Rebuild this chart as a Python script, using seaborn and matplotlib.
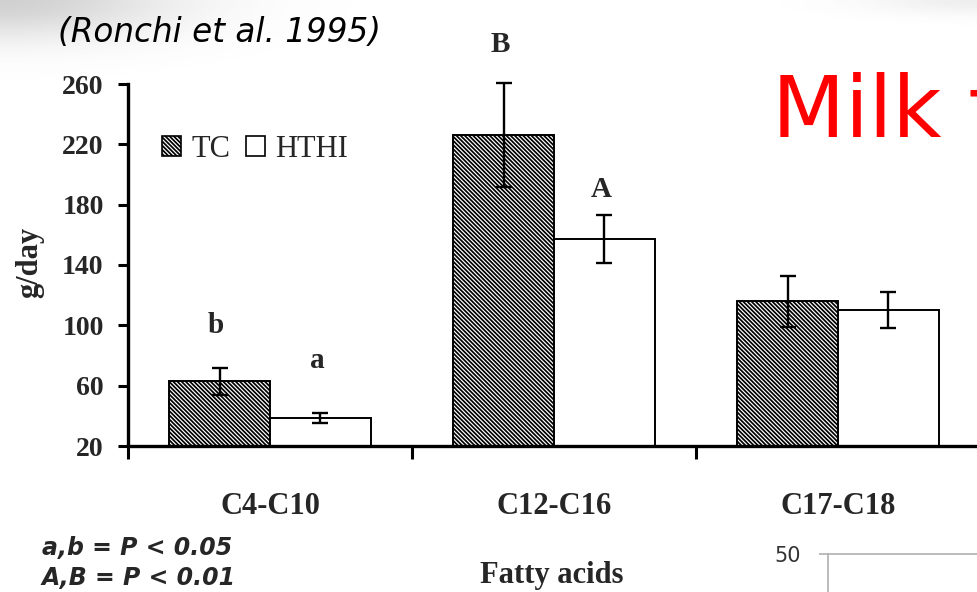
import numpy as np
import pandas as pd
import matplotlib
matplotlib.use("Agg")
import matplotlib.pyplot as plt
from matplotlib.patches import Patch
import seaborn as sns

# Milk fatty acid yield by chain length, two treatments
acids = ["C4-C10", "C12-C16", "C17-C18"]
groups = ["TC", "HTHI"]
tc_mean = [63, 226, 116]
hthi_mean = [38.5, 157, 110]
tc_se = [9, 34.5, 17]
hthi_se = [3.5, 16, 12]
tc_letters = ["b", "B", ""]
hthi_letters = ["a", "A", ""]
y_ticks = [20, 60, 100, 140, 180, 220, 260]
side_ticks = [50]

df = pd.DataFrame({
    "acid": acids * 2,
    "group": [groups[0]] * len(acids) + [groups[1]] * len(acids),
    "value": tc_mean + hthi_mean,
})

sns.set_style("ticks")
plt.rcParams["font.family"] = ["Liberation Serif", "DejaVu Serif"]
plt.rcParams["hatch.linewidth"] = 1.25
plt.rcParams["hatch.color"] = "black"

W, H = 977, 592
fig = plt.figure(figsize=(W / 100, H / 100), dpi=100)
fig.patch.set_facecolor("white")

# soft shadow in the top corners of the slide
bg = fig.add_axes([0, 0, 1, 1], zorder=-10)
bg.axis("off")
yy, xx = np.mgrid[0:H, 0:W]
shade = 0.28 * np.exp(-(xx / 170.0) ** 2 - (yy / 38.0) ** 2)
shade += 0.10 * np.exp(-((W - xx) / 110.0) ** 2 - (yy / 14.0) ** 2)
rgba = np.zeros((H, W, 4))
rgba[..., :3] = 0.35
rgba[..., 3] = np.clip(shade, 0, 1)
bg.imshow(rgba, extent=(0, W, H, 0), aspect="auto", interpolation="bilinear")
bg.set_xlim(0, W)
bg.set_ylim(H, 0)

ax = fig.add_axes([128 / W, 1 - 446 / H, 852 / W, 362 / H])
hatch = "\\" * 8

sns.barplot(data=df, x="acid", y="value", hue="group", hue_order=groups,
            palette={"TC": "white", "HTHI": "white"}, saturation=1,
            width=0.71, gap=0, errorbar=None, edgecolor="black",
            linewidth=1.4, legend=False, ax=ax)

for bar in ax.containers[0]:
    bar.set_hatch(hatch)

letter_y = {"b": 95, "a": 71.5, "B": 281, "A": 185}
for cont, means, ses, letters in zip(list(ax.containers[:2]), [tc_mean, hthi_mean],
                                     [tc_se, hthi_se], [tc_letters, hthi_letters]):
    xs = [b.get_x() + b.get_width() / 2 for b in cont]
    eb = ax.errorbar(xs, means, yerr=ses, fmt="none", ecolor="black",
                     elinewidth=1.7, capsize=5.5, capthick=1.7, zorder=5)
    for art in eb.lines[1] + eb.lines[2]:
        art.set_clip_on(False)
    for x, lab in zip(xs, letters):
        if lab:
            ax.text(x - 0.012, letter_y[lab], lab, ha="center", va="baseline",
                    fontsize=21, fontweight="bold", clip_on=False)

ax.set_xlim(-0.5, 2.5)
ax.set_ylim(20, 260)
ax.set_yticks(y_ticks)
ax.set_xticks(range(len(acids)))
ax.set_xticklabels(acids, fontsize=22, fontweight="bold")
ax.set_xticks([i - 0.5 for i in range(len(acids) + 1)], minor=True)
ax.tick_params(axis="x", which="major", length=0, pad=33)
ax.tick_params(axis="x", which="minor", length=9, width=2.2, color="black", direction="out")
ax.tick_params(axis="y", length=7.5, width=2.2, direction="out", pad=10,
               labelsize=20, color="black")
for t in ax.get_yticklabels():
    t.set_fontweight("bold")
ax.set_xlabel("")
ax.set_ylabel("")
for s in ("top", "right"):
    ax.spines[s].set_visible(False)
for s in ("left", "bottom"):
    ax.spines[s].set_linewidth(2.4)
    ax.spines[s].set_color("black")

handles = [
    Patch(facecolor="white", edgecolor="black", hatch=hatch, linewidth=1.2, label="TC"),
    Patch(facecolor="white", edgecolor="black", linewidth=1.2, label="HTHI"),
]
ax.legend(handles=handles, loc="upper left", bbox_to_anchor=(162 / W, 1 - 135 / H),
          bbox_transform=fig.transFigure, ncol=2, frameon=False,
          prop={"family": "Liberation Serif", "size": 22},
          handlelength=0.62, handleheight=0.62, handletextpad=0.35,
          columnspacing=0.5, borderpad=0, borderaxespad=0)

fig.text(30 / W, 1 - 262 / H, "g/day", rotation=90, ha="center", va="center",
         fontsize=22, fontweight="bold")
fig.text(552 / W, 1 - 583 / H, "Fatty acids", ha="center", va="baseline",
         fontsize=22, fontweight="bold")

fig.text(58 / W, 1 - 42 / H, "(Ronchi et al. 1995)", ha="left", va="baseline",
         fontsize=23.5, style="italic", family="DejaVu Sans", color="black")
fig.text(772 / W, 1 - 137 / H, "Milk fat", ha="left", va="baseline",
         fontsize=61, family="DejaVu Sans", color="#ff0000")
fig.text(42 / W, 1 - 555 / H, "a,b = P < 0.05", ha="left", va="baseline",
         fontsize=17, family="DejaVu Sans", fontweight="bold", style="italic")
fig.text(42 / W, 1 - 585 / H, "A,B = P < 0.01", ha="left", va="baseline",
         fontsize=17, family="DejaVu Sans", fontweight="bold", style="italic")

# corner of the neighbouring chart
ax2 = fig.add_axes([828 / W, 0, (W - 828) / W, 38 / H])
ax2.set_facecolor("white")
ax2.set_ylim(0, 50)
ax2.set_yticks(side_ticks)
ax2.set_xticks([])
for s in ("bottom", "right"):
    ax2.spines[s].set_visible(False)
for s in ("left", "top"):
    ax2.spines[s].set_color("#b0b0b0")
    ax2.spines[s].set_linewidth(1.2)
ax2.tick_params(axis="y", length=6.5, width=1.2, color="#b0b0b0", pad=13,
                labelsize=15, labelcolor="#333333")
for t in ax2.get_yticklabels():
    t.set_family("DejaVu Sans")

fig.savefig("out.png", dpi=100)
